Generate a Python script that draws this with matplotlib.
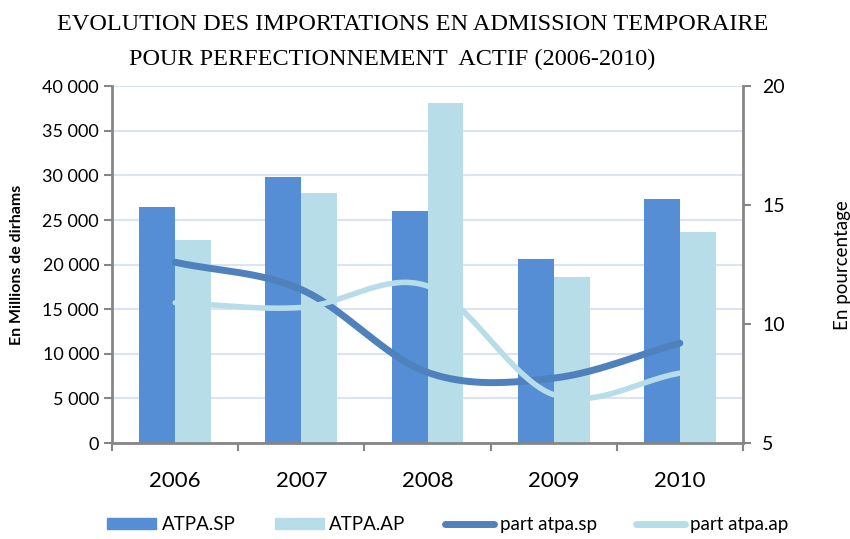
import numpy as np
import matplotlib.pyplot as plt
from matplotlib.patches import Patch
from matplotlib.lines import Line2D

years = ["2006", "2007", "2008", "2009", "2010"]
atpa_sp = [26500, 29800, 26000, 20600, 27400]
atpa_ap = [22800, 28000, 38100, 18600, 23700]
part_sp = [12.6, 11.45, 7.97, 7.73, 9.2]
part_ap = [10.9, 10.7, 11.6, 7.03, 7.94]

SP_BAR = "#558ED5"
AP_BAR = "#B7DDE8"
SP_LINE = "#4F81BD"
AP_LINE = "#B7DDE8"
AXIS = "#868686"


def smooth(x, y, n=40):
    # Catmull-Rom curve through the points, like Excel's smoothed line
    x = np.asarray(x, float)
    y = np.asarray(y, float)
    px = np.concatenate([[2 * x[0] - x[1]], x, [2 * x[-1] - x[-2]]])
    py = np.concatenate([[2 * y[0] - y[1]], y, [2 * y[-1] - y[-2]]])
    xs, ys = [], []
    t = np.linspace(0, 1, n)
    for i in range(1, len(px) - 2):
        for p, out in ((px, xs), (py, ys)):
            p0, p1, p2, p3 = p[i - 1], p[i], p[i + 1], p[i + 2]
            out.extend(0.5 * ((2 * p1) + (-p0 + p2) * t
                              + (2 * p0 - 5 * p1 + 4 * p2 - p3) * t ** 2
                              + (-p0 + 3 * p1 - 3 * p2 + p3) * t ** 3))
    return np.array(xs), np.array(ys)


plt.rcParams['font.family'] = ['Lato', 'DejaVu Sans']

fig = plt.figure(figsize=(8.5, 5.39), dpi=100)
ax = fig.add_axes([0.132, 0.178, 0.742, 0.662])
x = np.arange(len(years))
w = 0.285

ax.bar(x - w / 2, atpa_sp, w, color=SP_BAR, zorder=2)
ax.bar(x + w / 2, atpa_ap, w, color=AP_BAR, zorder=2)

ax.set_xlim(-0.5, len(years) - 0.5)
ax.set_ylim(0, 40000)
ax.set_yticks(range(0, 40001, 5000))
ax.set_yticklabels([f"{v:,}".replace(",", " ") for v in range(0, 40001, 5000)], fontsize=13)
ax.grid(axis='y', color="#DCE4F2", linewidth=1.5, zorder=0)
ax.set_axisbelow(True)

ax.set_xticks(x)
ax.set_xticklabels(years, fontsize=16)
ax.set_xticks(np.arange(-0.5, len(years)), minor=True)
ax.tick_params(axis='x', which='major', length=0, pad=20)
ax.tick_params(axis='x', which='minor', length=6, width=1.5, color=AXIS, direction='out')
ax.tick_params(axis='y', length=6, width=1.5, color=AXIS, direction='out')

for s in ['top', 'right']:
    ax.spines[s].set_visible(False)
for s in ['left', 'bottom']:
    ax.spines[s].set_color(AXIS)
    ax.spines[s].set_linewidth(2)

ax.set_ylabel("En Millions de dirhams", fontsize=11.5, fontweight='bold')
ax.yaxis.set_label_coords(-0.14, 0.5)

ax2 = ax.twinx()
ax2.set_ylim(5, 20)
ax2.set_yticks([5, 10, 15, 20])
ax2.tick_params(axis='y', length=6, width=1.5, color=AXIS, direction='out', labelsize=14, pad=8)
for s in ['top', 'left', 'bottom']:
    ax2.spines[s].set_visible(False)
ax2.spines['right'].set_color(AXIS)
ax2.spines['right'].set_linewidth(2)
ax2.set_ylabel("En pourcentage", fontsize=13.5)
ax2.yaxis.set_label_coords(1.145, 0.5)

sx, sy = smooth(x, part_sp)
ax2.plot(sx, sy, color=SP_LINE, linewidth=5, solid_capstyle='round', zorder=3)
ax2x, ax2y = smooth(x, part_ap)
ax2.plot(ax2x, ax2y, color=AP_LINE, linewidth=4, solid_capstyle='round', zorder=3)

fig.text(0.486, 0.955, "EVOLUTION DES IMPORTATIONS EN ADMISSION TEMPORAIRE",
         ha='center', va='center', fontsize=17.5, family='Liberation Serif')
fig.text(0.461, 0.89, "POUR PERFECTIONNEMENT  ACTIF (2006-2010)",
         ha='center', va='center', fontsize=17.5, family='Liberation Serif')

handles = [Patch(color=SP_BAR), Patch(color=AP_BAR),
           Line2D([], [], color=SP_LINE, linewidth=5, solid_capstyle='round'),
           Line2D([], [], color=AP_LINE, linewidth=5, solid_capstyle='round')]
labels = ["ATPA.SP", "ATPA.AP", "part atpa.sp", "part atpa.ap"]
fig.legend(handles, labels, loc='lower center', bbox_to_anchor=(0.527, -0.02), ncol=4,
           frameon=False, fontsize=13.5, handlelength=2.6, handleheight=0.55,
           columnspacing=2.1, handletextpad=0.3)

fig.savefig("out.png", dpi=100)
